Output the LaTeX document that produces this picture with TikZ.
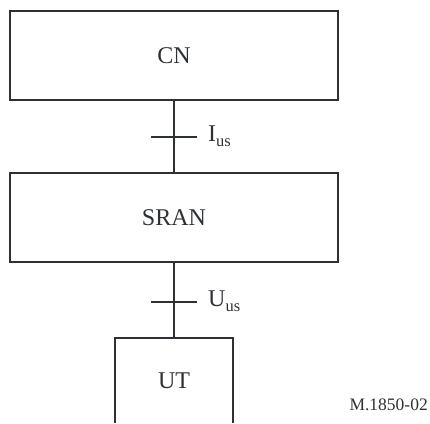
\documentclass[tikz,border=0pt]{standalone}
\usepackage{fontspec}
\setmainfont{Liberation Serif}
\definecolor{ink}{HTML}{2D3035}
\newcommand{\boxfont}{\fontsize{24}{28}\selectfont}
\newcommand{\ifname}[2]{{\boxfont #1}\raisebox{-4.5pt}{\fontsize{16.5}{16.5}\selectfont #2}}
\begin{document}
\begin{tikzpicture}[x=1pt,y=-1pt,
  block/.style={draw=ink,line width=2pt,inner sep=0pt,minimum width=328pt,minimum height=89pt,font=\boxfont,text=ink},
  link/.style={draw=ink,line width=2pt},
  ifacelabel/.style={anchor=west,inner sep=0pt,text=ink}]
\useasboundingbox (0,0) rectangle (430,423);
% network elements
\node[block] (cn) at (174,55.5) {CN};
\node[block] (sran) at (174,217.5) {SRAN};
\node[inner sep=0pt,minimum width=118pt,minimum height=85pt,font=\boxfont,text=ink] (ut) at (174,380.5) {UT};
\draw[link] (ut.south west) -- (ut.north west) -- (ut.north east) -- (ut.south east);
% connections
\draw[link] (cn.south) -- (sran.north);
\draw[link] (sran.south) -- (ut.north);
% interface ticks
\coordinate (i1) at (174,137);
\coordinate (i2) at (174,302);
\draw[link] ([xshift=-23pt]i1) -- ([xshift=23pt]i1);
\draw[link] ([xshift=-23pt]i2) -- ([xshift=23pt]i2);
\node[ifacelabel] (lab1) at ([xshift=34pt,yshift=1pt]i1) {\ifname{I}{us}};
\node[ifacelabel] (lab2) at ([xshift=34pt,yshift=1pt]i2) {\ifname{U}{us}};
% figure reference
\node[anchor=east,inner sep=0pt,text=ink,font=\fontsize{17.5}{20}\selectfont] (ref) at (428,405) {M.1850-02};
\end{tikzpicture}
\end{document}
